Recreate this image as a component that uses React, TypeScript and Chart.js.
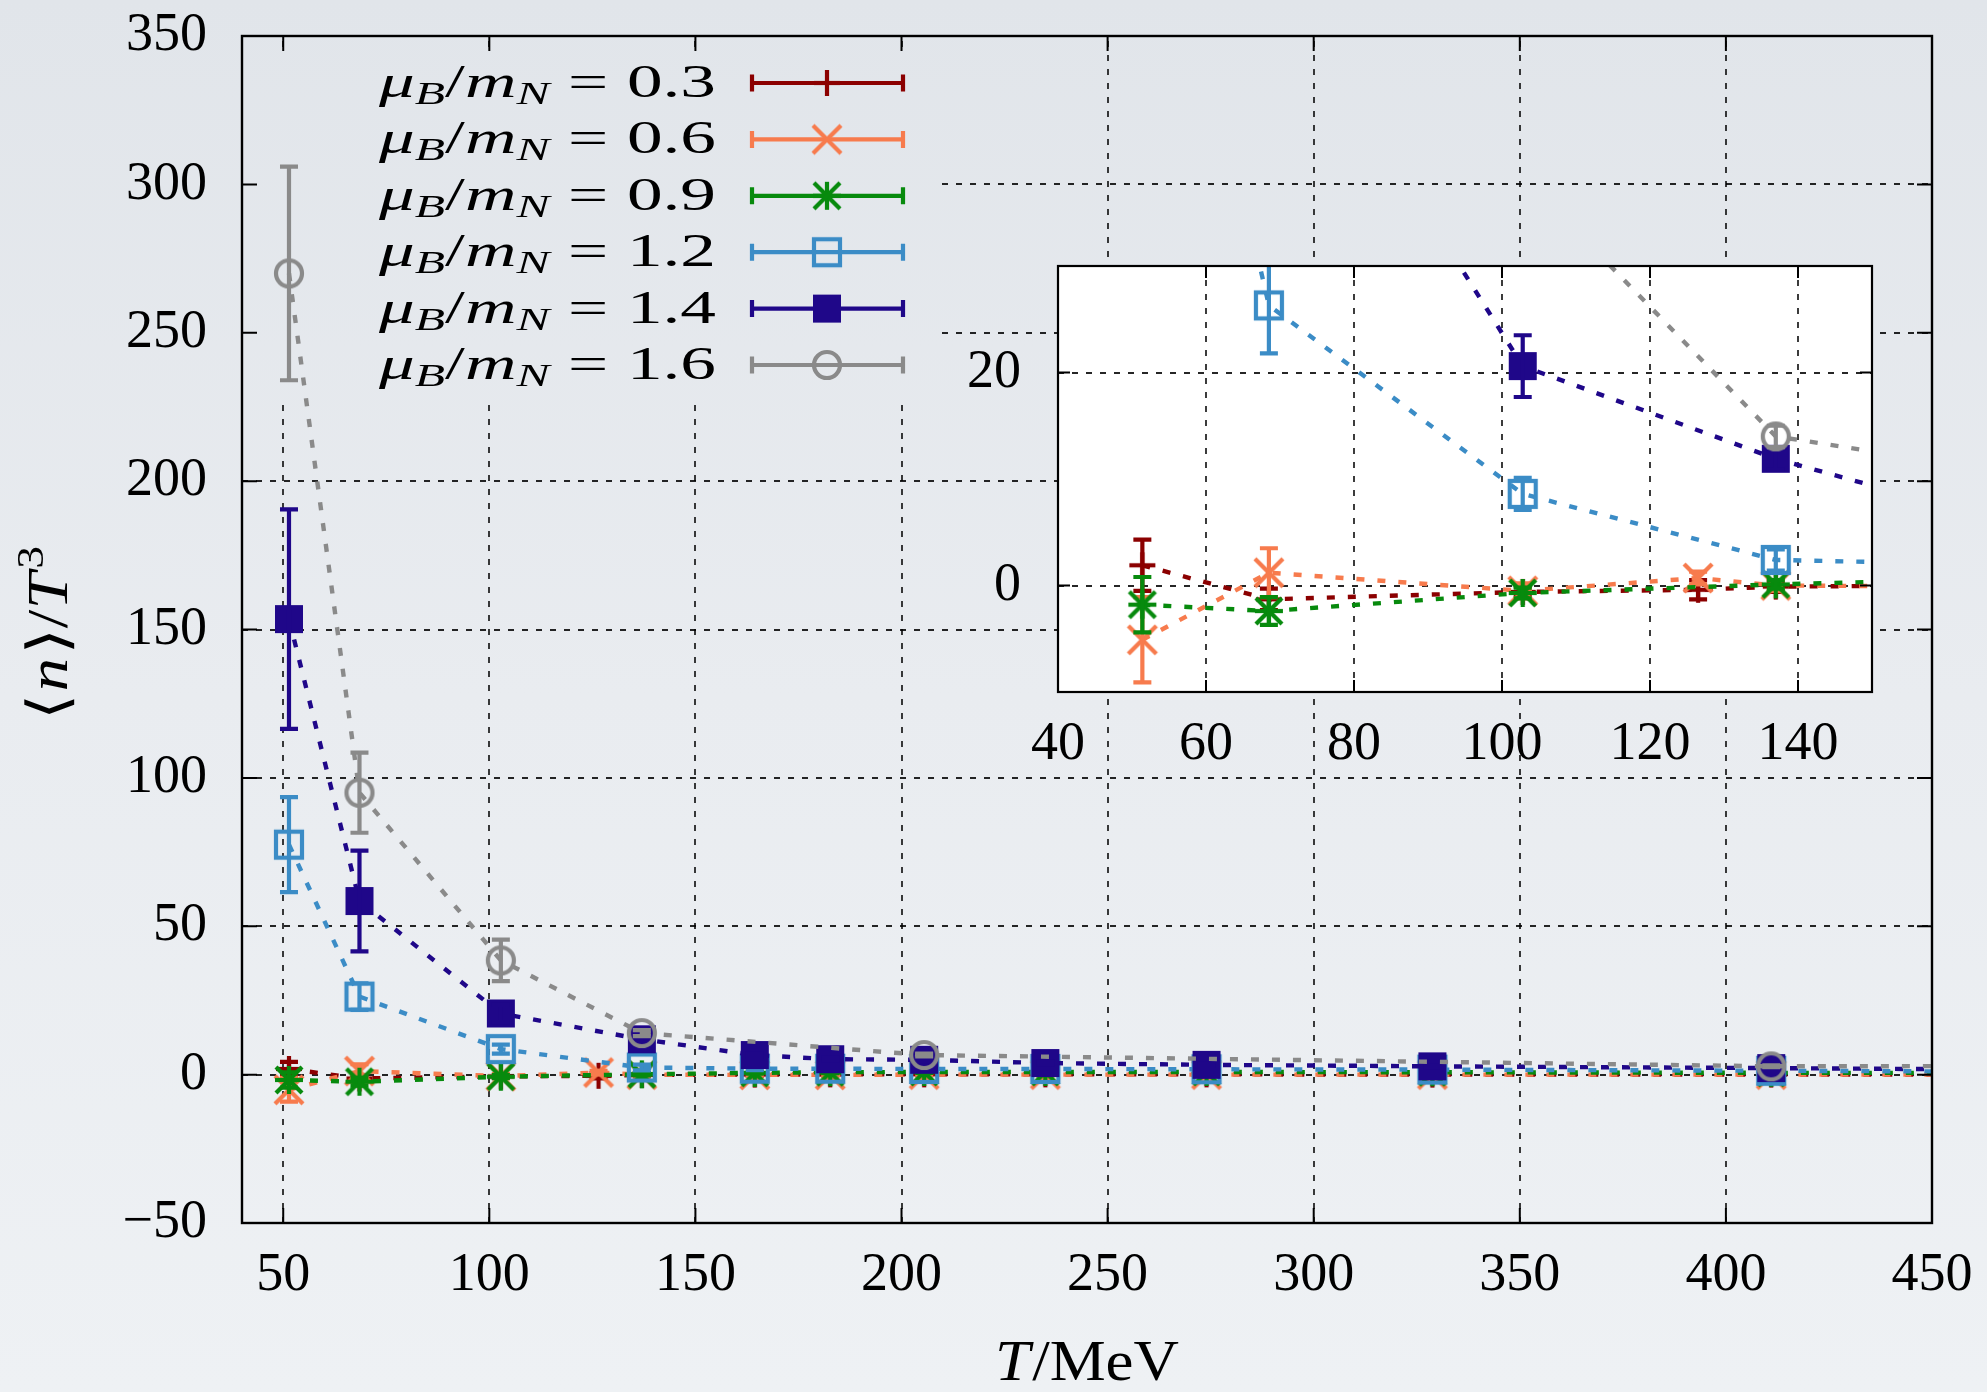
import React, { useEffect, useRef } from 'react';
import { Chart, registerables } from 'chart.js';

Chart.register(...registerables);

const PAGE_W = 1987;
const PAGE_H = 1392;

// ---------------- data ----------------
const SERIES_LABELS = ['0.3', '0.6', '0.9', '1.2', '1.4', '1.6'];

const T_03 = [51.4, 68.5, 102.8, 126.5, 137.0, 164.4, 182.7, 205.5, 234.9, 274.0, 328.8, 411.0, 548.0];
const N_03 = [1.9, -1.3, -0.6, -0.4, -0.1, 0.0, 0.1, 0.1, 0.1, 0.1, 0.0, 0.0, 0.0];
const E_03 = [2.4, 1.0, 0.5, 0.9, 0.5, 0.4, 0.4, 0.3, 0.3, 0.3, 0.2, 0.2, 0.2];

const T_06 = [51.4, 68.5, 102.8, 126.5, 137.0, 164.4, 182.7, 205.5, 234.9, 274.0, 328.8, 411.0, 548.0];
const N_06 = [-5.1, 1.2, -0.5, 0.7, 0.0, -0.1, -0.1, 0.0, 0.0, 0.0, 0.0, 0.0, 0.0];
const E_06 = [4.0, 2.3, 0.7, 0.6, 0.5, 0.4, 0.4, 0.3, 0.3, 0.3, 0.2, 0.2, 0.2];

const T_09 = [51.4, 68.5, 102.8, 137.0, 164.4, 182.7, 205.5, 234.9, 274.0, 328.8, 411.0, 548.0];
const N_09 = [-1.8, -2.4, -0.7, 0.1, 0.6, 0.8, 0.9, 0.9, 0.9, 0.8, 0.6, 0.5];
const E_09 = [2.6, 1.3, 0.5, 0.4, 0.3, 0.3, 0.3, 0.2, 0.2, 0.2, 0.2, 0.2];

const T_12 = [51.4, 68.5, 102.8, 137.0, 164.4, 182.7, 205.5, 234.9, 274.0, 328.8, 411.0, 548.0];
const N_12 = [77.5, 26.3, 8.6, 2.4, 2.0, 2.0, 1.9, 1.9, 1.8, 1.7, 1.3, 0.6];
const E_12 = [16.0, 4.5, 1.5, 1.0, 0.5, 0.4, 0.4, 0.3, 0.3, 0.3, 0.3, 0.3];

const T_14 = [51.4, 68.5, 102.8, 137.0, 164.4, 182.7, 205.5, 234.9, 274.0, 328.8, 411.0, 548.0];
const N_14 = [153.5, 58.5, 20.6, 11.9, 6.6, 5.2, 5.0, 3.9, 3.3, 2.8, 2.2, 1.0];
const E_14 = [37.0, 17.0, 2.9, 1.0, 0.6, 0.5, 0.5, 0.4, 0.4, 0.3, 0.3, 0.3];

const T_16 = [51.4, 68.5, 102.8, 137.0, 205.5, 411.0, 548.0];
const N_16 = [270.0, 95.0, 38.5, 14.0, 6.6, 2.8, 3.0];
const E_16 = [36.0, 13.5, 7.0, 1.0, 0.5, 0.3, 0.3];

const X_TICKS = [50, 100, 150, 200, 250, 300, 350, 400, 450];
const Y_TICKS = [-50, 0, 50, 100, 150, 200, 250, 300, 350];
const INSET_X_TICKS = [40, 60, 80, 100, 120, 140];
const INSET_Y_TICKS = [0, 20];

// ---------------- styles ----------------
const COLORS = ['#8b0000', '#f77b4d', '#078a0d', '#3b8cc6', '#1f0789', '#8a8a8a'];
const MARKERS = ['plus', 'cross', 'star', 'openSquare', 'filledSquare', 'openCircle'];

const SERIES = [
  { t: T_03, n: N_03, e: E_03 },
  { t: T_06, n: N_06, e: E_06 },
  { t: T_09, n: N_09, e: E_09 },
  { t: T_12, n: N_12, e: E_12 },
  { t: T_14, n: N_14, e: E_14 },
  { t: T_16, n: N_16, e: E_16 },
].map((s, i) => ({ ...s, label: SERIES_LABELS[i], color: COLORS[i], marker: MARKERS[i] }));

const SERIF = '"Liberation Serif", "DejaVu Serif", serif';
const TICK_FONT = { family: SERIF, size: 54 };
const LW = 4.2;

const fmtTick = (v: any) => (Number(v) < 0 ? '\u2212' + Math.abs(Number(v)) : String(v));

function pageGradient(ctx: CanvasRenderingContext2D) {
  const g = ctx.createLinearGradient(0, 0, 0, PAGE_H);
  g.addColorStop(0, '#e1e5ea');
  g.addColorStop(0.5, '#e9ecf0');
  g.addColorStop(1, '#eef1f4');
  return g;
}

function makeMarker(kind: string, color: string): HTMLCanvasElement {
  const c = document.createElement('canvas');
  c.width = 40;
  c.height = 40;
  const g = c.getContext('2d')!;
  g.strokeStyle = color;
  g.fillStyle = color;
  g.lineWidth = LW;
  g.translate(20, 20);
  const line = (x1: number, y1: number, x2: number, y2: number) => {
    g.beginPath();
    g.moveTo(x1, y1);
    g.lineTo(x2, y2);
    g.stroke();
  };
  if (kind === 'plus') {
    line(-13, 0, 13, 0);
    line(0, -13, 0, 13);
  } else if (kind === 'cross') {
    line(-14, -14, 14, 14);
    line(-14, 14, 14, -14);
  } else if (kind === 'star') {
    line(-14, 0, 14, 0);
    line(0, -14, 0, 14);
    line(-13, -13, 13, 13);
    line(-13, 13, 13, -13);
  } else if (kind === 'openSquare') {
    g.strokeRect(-13, -13, 26, 26);
  } else if (kind === 'filledSquare') {
    g.fillRect(-14, -14, 28, 28);
  } else if (kind === 'openCircle') {
    g.beginPath();
    g.arc(0, 0, 13, 0, Math.PI * 2);
    g.stroke();
  }
  return c;
}

type Run = { t: string; f: string; dy?: number; gap?: number };

function measureRuns(ctx: CanvasRenderingContext2D, runs: Run[]) {
  let w = 0;
  for (const r of runs) {
    ctx.font = r.f;
    w += (r.gap || 0) + ctx.measureText(r.t).width;
  }
  return w;
}

function drawRunsFit(
  ctx: CanvasRenderingContext2D,
  runs: Run[],
  ax: number,
  baseline: number,
  width: number,
  align: 'center' | 'right' | 'left'
) {
  const nat = measureRuns(ctx, runs);
  const sx = width / nat;
  ctx.save();
  ctx.translate(ax, baseline);
  ctx.scale(sx, 1);
  ctx.textAlign = 'left';
  ctx.textBaseline = 'alphabetic';
  ctx.fillStyle = '#000';
  let x = align === 'center' ? -nat / 2 : align === 'right' ? -nat : 0;
  for (const r of runs) {
    ctx.font = r.f;
    x += r.gap || 0;
    ctx.fillText(r.t, x, r.dy || 0);
    x += ctx.measureText(r.t).width;
  }
  ctx.restore();
}

function drawGrid(chart: any, dash: number[]) {
  const { ctx, chartArea: a } = chart;
  const xs = chart.scales.x;
  const ys = chart.scales.y;
  ctx.save();
  ctx.strokeStyle = 'rgba(0,0,0,0.85)';
  ctx.lineWidth = 1.8;
  ctx.setLineDash(dash);
  for (const t of xs.ticks) {
    const px = Math.round(xs.getPixelForValue(t.value));
    if (px <= a.left + 2 || px >= a.right - 2) continue;
    ctx.beginPath();
    ctx.moveTo(px, a.bottom);
    ctx.lineTo(px, a.top);
    ctx.stroke();
  }
  for (const t of ys.ticks) {
    const py = Math.round(ys.getPixelForValue(t.value));
    if (py <= a.top + 2 || py >= a.bottom - 2) continue;
    ctx.beginPath();
    ctx.moveTo(a.left, py);
    ctx.lineTo(a.right, py);
    ctx.stroke();
  }
  ctx.restore();
}

function drawFrame(chart: any, tickLen: number, border: number) {
  const { ctx, chartArea: a } = chart;
  const xs = chart.scales.x;
  const ys = chart.scales.y;
  ctx.save();
  ctx.strokeStyle = '#000';
  ctx.setLineDash([]);
  ctx.lineWidth = 2;
  ctx.beginPath();
  for (const t of xs.ticks) {
    const px = xs.getPixelForValue(t.value);
    ctx.moveTo(px, a.bottom);
    ctx.lineTo(px, a.bottom - tickLen);
    ctx.moveTo(px, a.top);
    ctx.lineTo(px, a.top + tickLen);
  }
  for (const t of ys.ticks) {
    const py = ys.getPixelForValue(t.value);
    ctx.moveTo(a.left, py);
    ctx.lineTo(a.left + tickLen, py);
    ctx.moveTo(a.right, py);
    ctx.lineTo(a.right - tickLen, py);
  }
  ctx.stroke();
  ctx.lineWidth = border;
  ctx.strokeRect(a.left, a.top, a.right - a.left, a.bottom - a.top);
  ctx.restore();
}

const errorBarPlugin = {
  id: 'errorBars',
  afterDatasetDraw(chart: any, args: any) {
    const ds = chart.data.datasets[args.index];
    const errs: number[] = ds.errors;
    if (!errs) return;
    const { ctx, chartArea: a } = chart;
    const ys = chart.scales.y;
    const xs = chart.scales.x;
    ctx.save();
    ctx.beginPath();
    ctx.rect(a.left, a.top, a.right - a.left, a.bottom - a.top);
    ctx.clip();
    ctx.strokeStyle = ds.borderColor;
    ctx.lineWidth = LW;
    ctx.setLineDash([]);
    ds.data.forEach((d: any, j: number) => {
      const x = xs.getPixelForValue(d.x);
      if (x < a.left - 20 || x > a.right + 20) return;
      const y1 = ys.getPixelForValue(d.y + errs[j]);
      const y2 = ys.getPixelForValue(d.y - errs[j]);
      ctx.beginPath();
      ctx.moveTo(x, y1);
      ctx.lineTo(x, y2);
      ctx.moveTo(x - 9, y1);
      ctx.lineTo(x + 9, y1);
      ctx.moveTo(x - 9, y2);
      ctx.lineTo(x + 9, y2);
      ctx.stroke();
    });
    ctx.restore();
  },
};

function legendRuns(label: string): Run[] {
  const big = 46;
  const sub = 32;
  return [
    { t: '\u03BC', f: `italic ${big}px ${SERIF}` },
    { t: 'B', f: `italic ${sub}px ${SERIF}`, dy: 7 },
    { t: '/', f: `${big}px ${SERIF}`, gap: 0 },
    { t: 'm', f: `italic ${big}px ${SERIF}` },
    { t: 'N', f: `italic ${sub}px ${SERIF}`, dy: 7 },
    { t: '=', f: `${big}px ${SERIF}`, gap: 12 },
    { t: label, f: `${big}px ${SERIF}`, gap: 12 },
  ];
}

function makeDatasets(markers: HTMLCanvasElement[]) {
  return SERIES.map((s, i) => ({
    label: s.label,
    data: s.t.map((t, j) => ({ x: t, y: s.n[j] })),
    errors: s.e,
    borderColor: s.color,
    backgroundColor: s.color,
    borderWidth: 4.4,
    borderDash: [8, 13],
    pointStyle: markers[i],
    pointRadius: 14,
    pointHoverRadius: 14,
    pointBorderWidth: 0,
    fill: false,
    tension: 0,
    order: SERIES.length - 1 - i,
    clip: 0,
  }));
}

function zeroPad(s: any) {
  s.paddingTop = 0;
  s.paddingBottom = 0;
  s.paddingLeft = 0;
  s.paddingRight = 0;
}

function scaleCommon(ticks: number[], extra: any) {
  return {
    type: 'linear',
    afterBuildTicks: (s: any) => {
      s.ticks = ticks.map((v) => ({ value: v }));
    },
    grid: { display: false, drawTicks: false },
    border: { display: false },
    ...extra,
  };
}

const LEGEND_BOX = { left: 243, top: 53, right: 937, bottom: 405 };
const LEGEND_ROW0 = 83;
const LEGEND_ROW_STEP = 56.4;

function axisTicks(padding: number) {
  return {
    font: TICK_FONT,
    color: '#000',
    autoSkip: false,
    maxRotation: 0,
    minRotation: 0,
    padding,
    callback: fmtTick,
  };
}

function mainConfig(markers: HTMLCanvasElement[]): any {
  const framePlugin = {
    id: 'mainFrame',
    beforeDraw(chart: any) {
      const ctx = chart.ctx;
      ctx.save();
      ctx.fillStyle = pageGradient(ctx);
      ctx.fillRect(0, 0, PAGE_W, PAGE_H);
      ctx.restore();
    },
    beforeDatasetsDraw(chart: any) {
      drawGrid(chart, [6, 8]);
      const ctx = chart.ctx;
      ctx.save();
      ctx.fillStyle = pageGradient(ctx);
      ctx.fillRect(
        LEGEND_BOX.left,
        LEGEND_BOX.top,
        LEGEND_BOX.right - LEGEND_BOX.left,
        LEGEND_BOX.bottom - LEGEND_BOX.top
      );
      ctx.restore();
    },
    afterDatasetsDraw(chart: any) {
      drawFrame(chart, 15, 2.4);
    },
    afterDraw(chart: any) {
      const ctx: CanvasRenderingContext2D = chart.ctx;
      // legend
      SERIES.forEach((s, i) => {
        const y = LEGEND_ROW0 + i * LEGEND_ROW_STEP;
        drawRunsFit(ctx, legendRuns(s.label), 716, y + 14, 337, 'right');
        ctx.save();
        ctx.strokeStyle = s.color;
        ctx.lineWidth = LW;
        ctx.setLineDash([]);
        ctx.beginPath();
        ctx.moveTo(750, y);
        ctx.lineTo(905, y);
        ctx.moveTo(752, y - 8.5);
        ctx.lineTo(752, y + 8.5);
        ctx.moveTo(903, y - 8.5);
        ctx.lineTo(903, y + 8.5);
        ctx.stroke();
        const m = markers[i];
        ctx.drawImage(m, 827 - m.width / 2, y - m.height / 2);
        ctx.restore();
      });
      // x title
      drawRunsFit(
        ctx,
        [
          { t: 'T', f: `italic 58px ${SERIF}` },
          { t: '/MeV', f: `58px ${SERIF}`, gap: 2 },
        ],
        1087,
        1380,
        184,
        'center'
      );
      // y title
      ctx.save();
      ctx.translate(67, 633);
      ctx.rotate(-Math.PI / 2);
      drawRunsFit(
        ctx,
        [
          { t: '\u27E8', f: `56px ${SERIF}` },
          { t: 'n', f: `italic 56px ${SERIF}`, gap: 2 },
          { t: '\u27E9', f: `56px ${SERIF}`, gap: 3 },
          { t: '/', f: `56px ${SERIF}` },
          { t: 'T', f: `italic 56px ${SERIF}` },
          { t: '3', f: `38px ${SERIF}`, dy: -24, gap: 3 },
        ],
        0,
        0,
        174,
        'center'
      );
      ctx.restore();
    },
  };

  return {
    type: 'line',
    data: { datasets: makeDatasets(markers) },
    options: {
      responsive: false,
      animation: false,
      devicePixelRatio: 1,
      events: [],
      layout: { padding: { left: 0, top: 36, right: 55, bottom: 0 } },
      plugins: {
        legend: { display: false },
        tooltip: { enabled: false },
        title: { display: false },
      },
      scales: {
        x: scaleCommon(X_TICKS, {
          min: 40,
          max: 450,
          afterFit: (s: any) => {
            s.height = 169;
            zeroPad(s);
          },
          ticks: axisTicks(20),
        }),
        y: scaleCommon(Y_TICKS, {
          min: -50,
          max: 350,
          afterFit: (s: any) => {
            s.width = 242;
            zeroPad(s);
          },
          ticks: axisTicks(35),
        }),
      },
    },
    plugins: [framePlugin, errorBarPlugin],
  };
}

function insetConfig(markers: HTMLCanvasElement[]): any {
  const framePlugin = {
    id: 'insetFrame',
    beforeDraw(chart: any) {
      const { ctx, chartArea: a } = chart;
      ctx.save();
      ctx.fillStyle = '#ffffff';
      ctx.fillRect(a.left, a.top, a.right - a.left, a.bottom - a.top);
      ctx.restore();
    },
    beforeDatasetsDraw(chart: any) {
      drawGrid(chart, [6, 8]);
    },
    afterDatasetsDraw(chart: any) {
      drawFrame(chart, 12, 2.2);
    },
  };
  return {
    type: 'line',
    data: { datasets: makeDatasets(markers) },
    options: {
      responsive: false,
      animation: false,
      devicePixelRatio: 1,
      events: [],
      layout: { padding: { left: 958, top: 266, right: 115, bottom: 580 } },
      plugins: {
        legend: { display: false },
        tooltip: { enabled: false },
        title: { display: false },
      },
      scales: {
        x: scaleCommon(INSET_X_TICKS, {
          min: 40,
          max: 150,
          afterFit: (s: any) => {
            s.height = 120;
            zeroPad(s);
          },
          ticks: axisTicks(20),
        }),
        y: scaleCommon(INSET_Y_TICKS, {
          min: -10,
          max: 30,
          afterFit: (s: any) => {
            s.width = 100;
            zeroPad(s);
          },
          ticks: axisTicks(37),
        }),
      },
    },
    plugins: [framePlugin, errorBarPlugin],
  };
}

export default function App() {
  const mainRef = useRef<HTMLCanvasElement>(null);
  const insetRef = useRef<HTMLCanvasElement>(null);

  useEffect(() => {
    document.body.style.margin = '0';
    const markers = SERIES.map((s) => makeMarker(s.marker, s.color));
    const main = new Chart(mainRef.current as HTMLCanvasElement, mainConfig(markers));
    const inset = new Chart(insetRef.current as HTMLCanvasElement, insetConfig(markers));
    return () => {
      main.destroy();
      inset.destroy();
    };
  }, []);

  const canvasStyle: React.CSSProperties = {
    position: 'absolute',
    left: 0,
    top: 0,
    width: PAGE_W,
    height: PAGE_H,
  };

  return (
    <div
      style={{
        position: 'fixed',
        left: 0,
        top: 0,
        width: PAGE_W,
        height: PAGE_H,
        overflow: 'hidden',
        background: '#e8ebef',
      }}
    >
      <canvas ref={mainRef} width={PAGE_W} height={PAGE_H} style={canvasStyle} />
      <canvas
        ref={insetRef}
        width={PAGE_W}
        height={PAGE_H}
        style={{ ...canvasStyle, pointerEvents: 'none' }}
      />
    </div>
  );
}
